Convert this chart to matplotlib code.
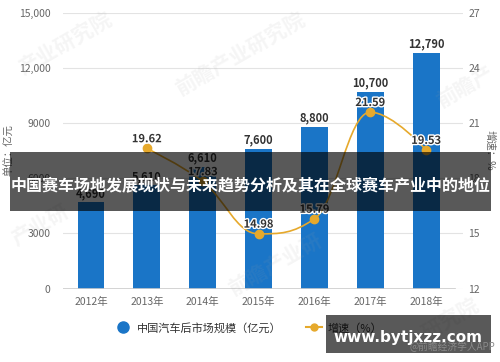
import matplotlib
matplotlib.use("Agg")
import matplotlib.pyplot as plt
from matplotlib.path import Path
from matplotlib.patches import PathPatch, Rectangle
from matplotlib.lines import Line2D
import matplotlib.patheffects as pe

plt.rcParams['font.family'] = ['Noto Sans CJK SC', 'DejaVu Sans']

# 1. Data
years = ["2012年", "2013年", "2014年", "2015年", "2016年", "2017年", "2018年"]
market_size = [4690, 5610, 6610, 7600, 8800, 10700, 12790]
growth = [None, 19.62, 17.83, 14.98, 15.79, 21.59, 19.53]
left_ticks = [0, 3000, 6000, 9000, 12000, 15000]
left_tick_labels = ["0", "3000", "6000", "9000", "12,000", "15,000"]
right_ticks = [12, 15, 18, 21, 24, 27]

title = "中国赛车场地发展现状与未来趋势分析及其在全球赛车产业中的地位"
bar_name = "中国汽车后市场规模（亿元）"
line_name = "增速（%）"

BLUE = "#1a75c7"
GOLD = "#e6a92c"
GRID = "#e3e3e3"
TICK = "#666666"

# 2. Figure and axes
fig = plt.figure(figsize=(5, 3.62), dpi=100)
ax1 = fig.add_axes([0.126, 0.2025, 0.8, 0.7625])
ax2 = ax1.twinx()

x = list(range(len(years)))
ax1.bar(x, market_size, width=0.48, color=BLUE, zorder=2)
ax1.set_xlim(-0.5, 6.66)
ax1.set_ylim(0, 15000)
ax2.set_ylim(12, 27)

ax1.set_yticks(left_ticks)
ax1.set_yticklabels(left_tick_labels)
ax2.set_yticks(right_ticks)
ax1.set_xticks(x)
ax1.set_xticklabels(years)

for a in (ax1, ax2):
    for s in a.spines.values():
        s.set_visible(False)
    a.tick_params(length=0, colors=TICK, labelsize=7.5)
ax1.tick_params(axis='y', pad=9)
ax2.tick_params(axis='y', pad=4)
ax1.tick_params(axis='x', pad=6)
ax1.grid(axis='y', color=GRID, linewidth=0.8, zorder=0)
ax1.set_axisbelow(True)
ax1.axhline(0, xmax=0.98, color="#cccccc", linewidth=1.2, zorder=3)

# 3. Bar value labels
for xi, v in zip(x, market_size):
    ax1.annotate(f"{v:,}", (xi, v), xytext=(0, 6.5), textcoords="offset points",
                 ha="center", va="center", fontsize=8, fontweight="bold",
                 color="#333333", zorder=4)

# 4. Smooth growth line (Highcharts-style spline through the points)
pts = [(xi, g) for xi, g in zip(x, growth) if g is not None]
smoothing = 1.5
denom = smoothing + 1
right_cont = {}
left_cont = {}
for i, (px, py) in enumerate(pts):
    if 0 < i < len(pts) - 1:
        lx, ly = pts[i - 1]
        nx, ny = pts[i + 1]
        lcx = (smoothing * px + lx) / denom
        lcy = (smoothing * py + ly) / denom
        rcx = (smoothing * px + nx) / denom
        rcy = (smoothing * py + ny) / denom
        corr = (rcy - lcy) * (rcx - px) / (rcx - lcx) + py - rcy
        lcy += corr
        rcy += corr
        if lcy > ly and lcy > py:
            lcy = max(ly, py); rcy = 2 * py - lcy
        elif lcy < ly and lcy < py:
            lcy = min(ly, py); rcy = 2 * py - lcy
        if rcy > ny and rcy > py:
            rcy = max(ny, py); lcy = 2 * py - rcy
        elif rcy < ny and rcy < py:
            rcy = min(ny, py); lcy = 2 * py - rcy
        left_cont[i] = (lcx, lcy)
        right_cont[i] = (rcx, rcy)

verts = [pts[0]]
codes = [Path.MOVETO]
for i in range(1, len(pts)):
    verts += [right_cont.get(i - 1, pts[i - 1]), left_cont.get(i, pts[i]), pts[i]]
    codes += [Path.CURVE4] * 3
ax2.add_patch(PathPatch(Path(verts, codes), facecolor="none", edgecolor=GOLD,
                        linewidth=1.2, zorder=3))
ax2.plot([p[0] for p in pts], [p[1] for p in pts], linestyle="none", marker="o",
         markersize=6, color=GOLD, zorder=4)
for px, py in pts:
    ax2.annotate(f"{py:.2f}", (px, py), xytext=(0, 7), textcoords="offset points",
                 ha="center", va="center", fontsize=8, fontweight="bold",
                 color="#333333", zorder=5,
                 path_effects=[pe.withStroke(linewidth=2, foreground="white")])

# 5. Axis titles
fig.text(0.018, 0.586, "单位：亿元", rotation=90, ha="center", va="center",
         fontsize=7.5, color=TICK)
fig.text(0.98, 0.586, "增速：%", rotation=-90, ha="center", va="center",
         fontsize=7.5, color=TICK)

# 6. Faint watermarks
for wx, wy, s in [(0.13, 0.88, "产业研究院"), (0.48, 0.85, "前瞻产业研究院"),
                  (0.93, 0.76, "前瞻产"), (0.08, 0.38, "产业研"),
                  (0.55, 0.27, "前瞻产业研"), (0.9, 0.12, "研究院")]:
    fig.text(wx, wy, s, rotation=30, ha="center", va="center", fontsize=15,
             fontweight="bold", color="#a0a0a0", alpha=0.1, zorder=1)

# 7. Legend
handles = [Line2D([], [], linestyle="none", marker="o", markersize=8, color=BLUE),
           Line2D([], [], color=GOLD, linewidth=1.5, marker="o", markersize=5)]
leg = fig.legend(handles, [bar_name, line_name], loc="center",
                 bbox_to_anchor=(0.497, 0.094), ncol=2, frameon=False,
                 fontsize=8, handlelength=1.5, columnspacing=2.2, handletextpad=0.5)
for t in leg.get_texts():
    t.set_color("#333333")

# 8. Title banner and site badge on top
fig.add_artist(Rectangle((0.02, 1 - 211 / 362), 0.962, 59 / 362,
                         transform=fig.transFigure, facecolor="black", alpha=0.65,
                         edgecolor="none", zorder=10))
fig.text(0.502, 0.489, title, ha="center", va="center", fontsize=11.5,
         fontweight="bold", color="white", zorder=11)
fig.add_artist(Rectangle((0.652, 1 - 353 / 362), 0.33, 38 / 362,
                         transform=fig.transFigure, facecolor="black", alpha=0.65,
                         edgecolor="none", zorder=10))
fig.text(0.816, 0.069, "www.bytjxzz.com", ha="center", va="center", fontsize=11,
         fontweight="bold", color="white", family="DejaVu Sans", zorder=11)
fig.text(0.99, 0.041, "@前瞻经济学人APP", ha="right", va="center", fontsize=7,
         color="#8a8a8a", zorder=11)

fig.savefig("out.png", dpi=100)
